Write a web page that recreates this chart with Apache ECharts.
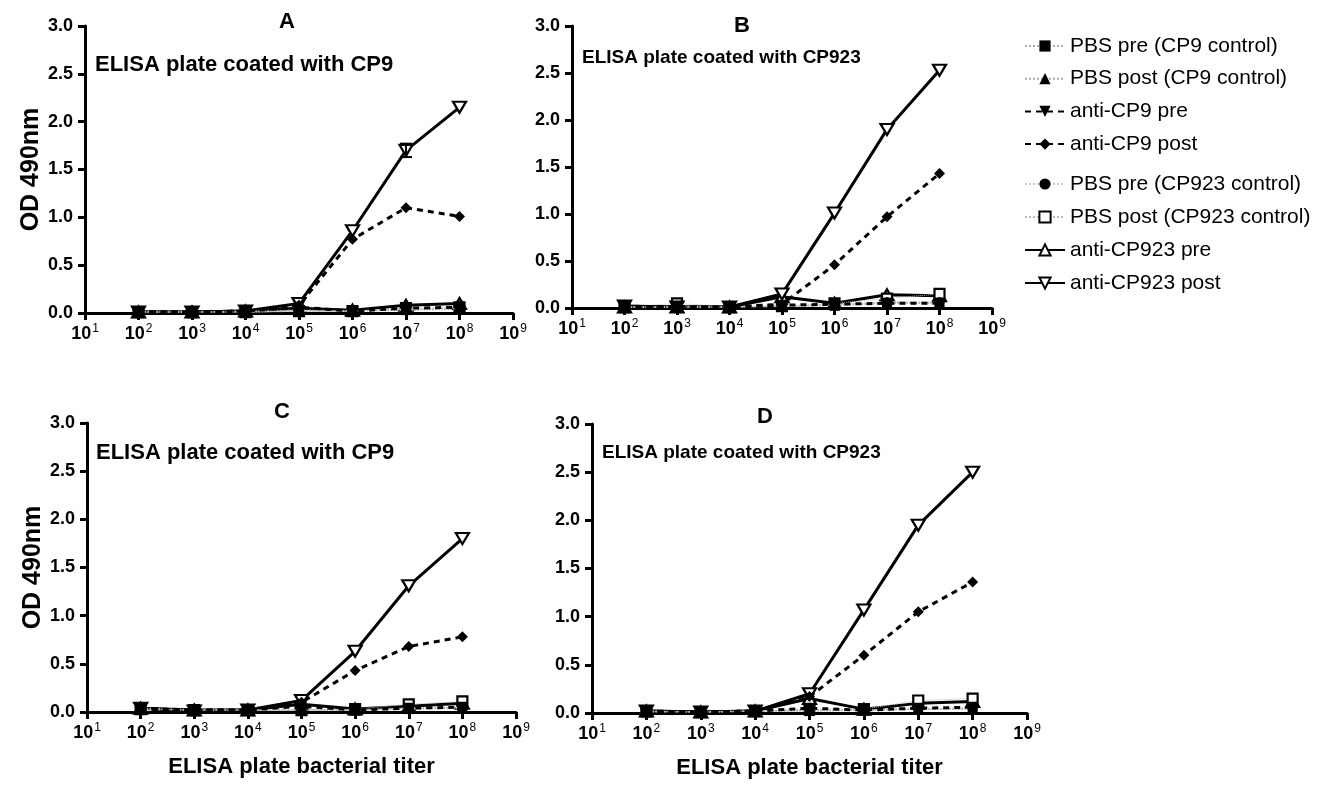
<!DOCTYPE html>
<html><head><meta charset="utf-8">
<script src="https://cdn.jsdelivr.net/npm/echarts@6/dist/echarts.min.js"></script>
<style>html,body{margin:0;padding:0;background:#fff}#c{width:1336px;height:785px}</style>
</head><body><div id="c"></div>
<script>
// ---- data ----
const titers = [1e2, 1e3, 1e4, 1e5, 1e6, 1e7, 1e8];
const seriesNames = ['PBS pre (CP9 control)', 'PBS post (CP9 control)', 'anti-CP9 pre', 'anti-CP9 post',
  'PBS pre (CP923 control)', 'PBS post (CP923 control)', 'anti-CP923 pre', 'anti-CP923 post'];
const panelLetters = ['A', 'B', 'C', 'D'];
const panelSubtitles = ['ELISA plate coated with CP9', 'ELISA plate coated with CP923', 'ELISA plate coated with CP9', 'ELISA plate coated with CP923'];

// Panel A (values in series order)
const pbsPreCP9_A      = [0.01, 0.01, 0.01, 0.02, 0.02, 0.03, 0.04];
const pbsPostCP9_A     = [0.01, 0.01, 0.02, 0.03, 0.02, 0.04, 0.05];
const antiCP9Pre_A     = [0.01, 0.01, 0.02, 0.06, 0.02, 0.05, 0.06];
const antiCP9Post_A    = [0.01, 0.01, 0.02, 0.08, 0.77, 1.10, 1.01];
const pbsPreCP923_A    = [0.01, 0.01, 0.01, 0.02, 0.02, 0.04, 0.05];
const pbsPostCP923_A   = [0.01, 0.01, 0.01, 0.02, 0.02, 0.05, 0.06];
const antiCP923Pre_A   = [0.01, 0.01, 0.02, 0.05, 0.03, 0.08, 0.10];
const antiCP923Post_A  = [0.01, 0.01, 0.02, 0.10, 0.86, 1.70, 2.15];
const antiCP923PostErr_A = [0, 0, 0, 0, 0, 0.07, 0];
// Panel B
const pbsPreCP9_B      = [0.01, 0.01, 0.01, 0.02, 0.03, 0.05, 0.05];
const pbsPostCP9_B     = [0.01, 0.01, 0.01, 0.02, 0.03, 0.06, 0.06];
const antiCP9Pre_B     = [0.02, 0.01, 0.01, 0.03, 0.04, 0.05, 0.05];
const antiCP9Post_B    = [0.01, 0.01, 0.01, 0.04, 0.46, 0.97, 1.43];
const pbsPreCP923_B    = [0.01, 0.01, 0.01, 0.02, 0.04, 0.06, 0.06];
const pbsPostCP923_B   = [0.01, 0.05, 0.01, 0.02, 0.05, 0.10, 0.15];
const antiCP923Pre_B   = [0.01, 0.01, 0.01, 0.12, 0.05, 0.14, 0.13];
const antiCP923Post_B  = [0.02, 0.01, 0.01, 0.15, 1.01, 1.90, 2.53];
// Panel C
const pbsPreCP9_C      = [0.04, 0.02, 0.02, 0.02, 0.02, 0.03, 0.04];
const pbsPostCP9_C     = [0.03, 0.02, 0.02, 0.02, 0.02, 0.04, 0.05];
const antiCP9Pre_C     = [0.04, 0.02, 0.02, 0.06, 0.02, 0.04, 0.05];
const antiCP9Post_C    = [0.03, 0.02, 0.02, 0.10, 0.43, 0.68, 0.78];
const pbsPreCP923_C    = [0.03, 0.02, 0.02, 0.02, 0.02, 0.04, 0.05];
const pbsPostCP923_C   = [0.03, 0.02, 0.02, 0.02, 0.03, 0.08, 0.11];
const antiCP923Pre_C   = [0.04, 0.02, 0.02, 0.08, 0.03, 0.06, 0.09];
const antiCP923Post_C  = [0.04, 0.01, 0.02, 0.12, 0.63, 1.31, 1.80];
// Panel D
const pbsPreCP9_D      = [0.02, 0.01, 0.02, 0.02, 0.03, 0.04, 0.04];
const pbsPostCP9_D     = [0.01, 0.01, 0.02, 0.03, 0.03, 0.04, 0.05];
const antiCP9Pre_D     = [0.02, 0.01, 0.02, 0.05, 0.03, 0.05, 0.06];
const antiCP9Post_D    = [0.01, 0.01, 0.02, 0.17, 0.60, 1.05, 1.36];
const pbsPreCP923_D    = [0.02, 0.01, 0.02, 0.02, 0.03, 0.05, 0.05];
const pbsPostCP923_D   = [0.02, 0.01, 0.02, 0.04, 0.04, 0.13, 0.15];
const antiCP923Pre_D   = [0.02, 0.01, 0.02, 0.15, 0.04, 0.10, 0.12];
const antiCP923Post_D  = [0.02, 0.01, 0.02, 0.20, 1.07, 1.95, 2.50];

const panelData = [
  [pbsPreCP9_A, pbsPostCP9_A, antiCP9Pre_A, antiCP9Post_A, pbsPreCP923_A, pbsPostCP923_A, antiCP923Pre_A, antiCP923Post_A],
  [pbsPreCP9_B, pbsPostCP9_B, antiCP9Pre_B, antiCP9Post_B, pbsPreCP923_B, pbsPostCP923_B, antiCP923Pre_B, antiCP923Post_B],
  [pbsPreCP9_C, pbsPostCP9_C, antiCP9Pre_C, antiCP9Post_C, pbsPreCP923_C, pbsPostCP923_C, antiCP923Pre_C, antiCP923Post_C],
  [pbsPreCP9_D, pbsPostCP9_D, antiCP9Pre_D, antiCP9Post_D, pbsPreCP923_D, pbsPostCP923_D, antiCP923Pre_D, antiCP923Post_D]
];

// ---- styles ----
const FONT = 'Liberation Sans, Arial, sans-serif';
const styles = [
  {symbol: 'rect', size: 10, fill: '#000', line: {color: '#aaa', type: 'dotted', width: 1.5}, z: 4},
  {symbol: 'triangle', size: 11, fill: '#000', line: {color: '#aaa', type: 'dotted', width: 1.5}, z: 4},
  {symbol: 'triangle', rotate: 180, size: 11, fill: '#000', line: {color: '#000', type: [6, 5], width: 3}, z: 5},
  {symbol: 'diamond', size: 11, fill: '#000', line: {color: '#000', type: [6, 5], width: 3}, z: 5},
  {symbol: 'circle', size: 10, fill: '#000', line: {color: '#ccc', type: 'dotted', width: 1}, z: 4},
  {symbol: 'rect', size: 10, fill: '#fff', line: {color: '#bbb', type: 'dotted', width: 1}, z: 3},
  {symbol: 'triangle', size: [13, 11], fill: '#fff', line: {color: '#000', type: 'solid', width: 3}, z: 2},
  {symbol: 'triangle', rotate: 180, size: [13, 11], fill: '#fff', line: {color: '#000', type: 'solid', width: 3}, z: 3}
];

const grids = [
  {left: 85, top: 26, width: 428, height: 287},
  {left: 572, top: 26, width: 420, height: 282},
  {left: 87, top: 423, width: 429, height: 289},
  {left: 592, top: 424, width: 435, height: 289}
];

const xAxes = [], yAxes = [], series = [], titles = [];
grids.forEach((g, i) => {
  xAxes.push({
    gridIndex: i, type: 'log', logBase: 10, min: 10, max: 1e9, interval: 1,
    name: i >= 2 ? 'ELISA plate bacterial titer' : '', nameLocation: 'middle', nameGap: 44,
    nameTextStyle: {fontFamily: FONT, fontWeight: 'bold', fontSize: 22, color: '#000', verticalAlign: 'top'},
    axisLine: {lineStyle: {color: '#000', width: 3}},
    axisTick: {show: true, length: 7, lineStyle: {color: '#000', width: 3}},
    splitLine: {show: false}, minorTick: {show: false},
    axisLabel: {
      margin: 10,
      formatter: v => '{b|10}{s|' + Math.round(Math.log10(v)) + '}',
      rich: {
        b: {fontFamily: FONT, fontSize: 18, fontWeight: 'bold', color: '#000', lineHeight: 22},
        s: {fontFamily: FONT, fontSize: 12, color: '#000', lineHeight: 12, verticalAlign: 'top', padding: [0, 0, 0, 1]}
      }
    }
  });
  yAxes.push({
    gridIndex: i, type: 'value', min: 0, max: 3, interval: 0.5,
    name: (i === 0 || i === 2) ? 'OD 490nm' : '', nameLocation: 'middle', nameGap: 40,
    nameTextStyle: {fontFamily: FONT, fontWeight: 'bold', fontSize: 25, color: '#000'},
    axisLine: {show: true, lineStyle: {color: '#000', width: 3}},
    axisTick: {show: true, length: 7, lineStyle: {color: '#000', width: 3}},
    splitLine: {show: false},
    axisLabel: {margin: 12, fontFamily: FONT, fontSize: 18, fontWeight: 'bold', color: '#000', formatter: v => v.toFixed(1)}
  });
  const vals = panelData[i];
  seriesNames.forEach((nm, k) => {
    const st = styles[k];
    series.push({
      name: nm, type: 'line', xAxisIndex: i, yAxisIndex: i,
      data: titers.map((t, j) => [t, vals[k][j]]),
      symbol: st.symbol, symbolSize: st.size, symbolRotate: st.rotate || 0,
      showAllSymbol: true, z: st.z, animation: false,
      itemStyle: {color: st.fill, borderColor: '#000', borderWidth: st.fill === '#fff' ? 2.2 : 0},
      lineStyle: st.line
    });
  });
});

// error bar (panel A, anti-CP923 post)
series.push({
  type: 'custom', xAxisIndex: 0, yAxisIndex: 0, z: 6, silent: true,
  data: titers.map((t, j) => [t, antiCP923Post_A[j], antiCP923PostErr_A[j]]).filter(d => d[2] > 0),
  renderItem: (params, api) => {
    const x = api.value(0), y = api.value(1), e = api.value(2);
    const top = api.coord([x, y + e]), bot = api.coord([x, y - e]);
    const hw = 6;
    return {type: 'group', children: [
      {type: 'line', shape: {x1: top[0], y1: top[1], x2: bot[0], y2: bot[1]}, style: {stroke: '#000', lineWidth: 2}},
      {type: 'line', shape: {x1: top[0] - hw, y1: top[1], x2: top[0] + hw, y2: top[1]}, style: {stroke: '#000', lineWidth: 2}},
      {type: 'line', shape: {x1: bot[0] - hw, y1: bot[1], x2: bot[0] + hw, y2: bot[1]}, style: {stroke: '#000', lineWidth: 2}}
    ]};
  }
});

const titleCenters = [[287, 22], [742, 26], [282, 412], [765, 417]];
const subPos = [[95, 65], [582, 58], [96, 453], [602, 453]];
const subSize = [22, 19, 22, 19];
panelLetters.forEach((L, i) => {
  titles.push({text: L, left: titleCenters[i][0], top: titleCenters[i][1] - 12, textAlign: 'center', padding: 0,
    textStyle: {fontFamily: FONT, fontWeight: 'bold', fontSize: 22, color: '#000', lineHeight: 24}});
  titles.push({text: panelSubtitles[i], left: subPos[i][0], top: subPos[i][1] - 12, padding: 0,
    textStyle: {fontFamily: FONT, fontWeight: 'bold', fontSize: subSize[i], color: '#000', lineHeight: 24}});
});

const legendText = {fontFamily: FONT, fontSize: 21, color: '#000', lineHeight: 24};
const chart = echarts.init(document.getElementById('c'), null, {renderer: 'canvas'});
chart.setOption({
  animation: false,
  title: titles,
  grid: grids,
  xAxis: xAxes,
  yAxis: yAxes,
  legend: [
    {data: seriesNames.slice(0, 4), orient: 'vertical', left: 1024, top: 34, padding: 0, itemWidth: 40, itemHeight: 14, itemGap: 8.7, textStyle: legendText, selectedMode: false},
    {data: seriesNames.slice(4), orient: 'vertical', left: 1024, top: 172, padding: 0, itemWidth: 40, itemHeight: 14, itemGap: 9, textStyle: legendText, selectedMode: false}
  ],
  series: series
});
</script></body></html>
